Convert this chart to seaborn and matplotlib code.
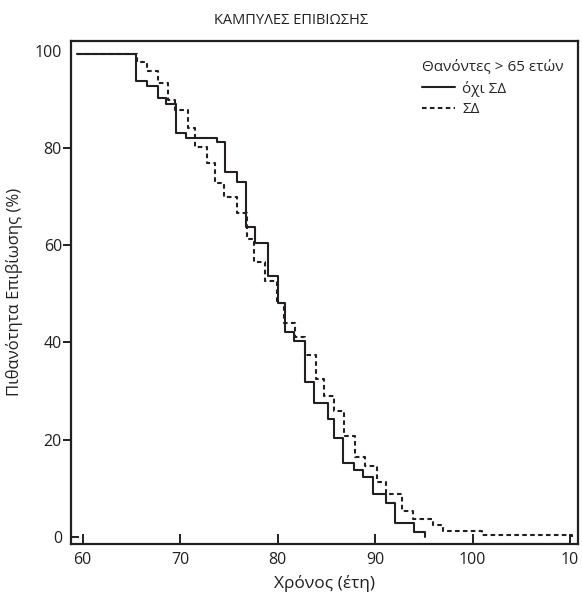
import pandas as pd
import matplotlib
matplotlib.use("Agg")
import matplotlib.pyplot as plt
from matplotlib.lines import TICKRIGHT
import seaborn as sns

# Kaplan-Meier steps (years, survival %)
solid_t = [59.4, 65.5, 66.6, 67.7, 68.5, 69.6, 70.6, 73.8, 74.6, 75.8, 76.8, 77.7, 79.0,
           80.0, 80.8, 81.7, 82.8, 83.7, 85.2, 85.8, 86.7, 87.8, 88.8, 89.8, 91.1, 92.0,
           94.0, 95.1]
solid_s = [99.4, 93.8, 92.9, 90.3, 89.2, 83.2, 82.2, 81.3, 75.2, 73.1, 63.8, 60.5, 53.6,
           48.1, 42.1, 40.4, 31.8, 27.6, 24.2, 20.4, 15.1, 13.7, 12.3, 8.7, 6.9, 2.8,
           1.0, 0.0]

dash_t = [59.4, 65.6, 66.6, 67.7, 68.8, 69.5, 70.8, 71.5, 72.7, 73.6, 74.5, 75.8, 76.9,
          77.6, 78.7, 79.9, 80.6, 81.8, 82.8, 83.9, 84.8, 85.8, 86.8, 87.9, 89.0, 90.2,
          91.1, 92.8, 93.9, 95.9, 97.0, 101.0, 110.2]
dash_s = [99.4, 97.7, 95.9, 93.4, 90.0, 88.0, 84.2, 80.2, 77.0, 72.9, 70.0, 66.6, 61.3,
          56.5, 52.7, 48.2, 44.0, 41.2, 37.4, 32.4, 28.9, 25.9, 20.8, 16.5, 14.5, 11.3,
          8.7, 5.2, 3.6, 2.4, 1.2, 0.35, 0.0]

groups = ["όχι ΣΔ", "ΣΔ"]
x_ticks = [60, 70, 80, 90, 100, 110]
x_tick_labels = ["60", "70", "80", "90", "100", "10"]
y_ticks = [0, 20, 40, 60, 80, 100]

df = pd.concat([
    pd.DataFrame({"year": solid_t, "surv": solid_s, "group": groups[0]}),
    pd.DataFrame({"year": dash_t, "surv": dash_s, "group": groups[1]}),
])

sns.set_style("ticks")
plt.rcParams["font.family"] = ["Open Sans", "DejaVu Sans"]
ink = "#231f20"

fig = plt.figure(figsize=(5.82, 5.97), dpi=100)
ax = fig.add_axes([0.122, 0.089, 0.871, 0.843])

sns.lineplot(data=df, x="year", y="surv", hue="group", style="group",
             hue_order=groups, style_order=groups,
             palette={groups[0]: ink, groups[1]: ink},
             dashes={groups[0]: "", groups[1]: (2.2, 1.6)},
             estimator=None, sort=False, drawstyle="steps-post",
             linewidth=1.5, ax=ax)

ax.set_xlim(58.8, 110.8)
ax.set_ylim(-1.5, 102.2)
ax.set_xticks(x_ticks)
ax.set_xticklabels(x_tick_labels)
ax.set_yticks(y_ticks)
ax.tick_params(axis="x", direction="in", length=7, width=1.4, labelsize=11.5, pad=6, colors=ink)
ax.tick_params(axis="y", direction="out", length=5.5, width=1.4, labelsize=11.5, pad=1, colors=ink)
# the 0 tick points inward, the 100 tick is not drawn
yt = ax.yaxis.get_major_ticks()
yt[0].tick1line.set_marker(TICKRIGHT)
yt[-1].tick1line.set_visible(False)
for s in ax.spines.values():
    s.set_linewidth(1.6)
    s.set_color(ink)

ax.set_xlabel("Χρόνος (έτη)", fontsize=12.5, color=ink, labelpad=5)
ax.set_ylabel("Πιθανότητα Επιβίωσης (%)", fontsize=12, color=ink, labelpad=8)

handles, labels = ax.get_legend_handles_labels()
ax.legend(handles, labels, title="Θανόντες > 65 ετών", loc="upper right",
          bbox_to_anchor=(0.995, 0.985), frameon=False, fontsize=11,
          title_fontsize=11, alignment="left", handlelength=2.2,
          handletextpad=0.45, labelspacing=0.35, borderpad=0.3)

fig.text(0.5, 0.966, "ΚΑΜΠΥΛΕΣ ΕΠΙΒΙΩΣΗΣ", ha="center", va="center",
         fontsize=10.5, color=ink)

fig.savefig("out.png", dpi=100)
